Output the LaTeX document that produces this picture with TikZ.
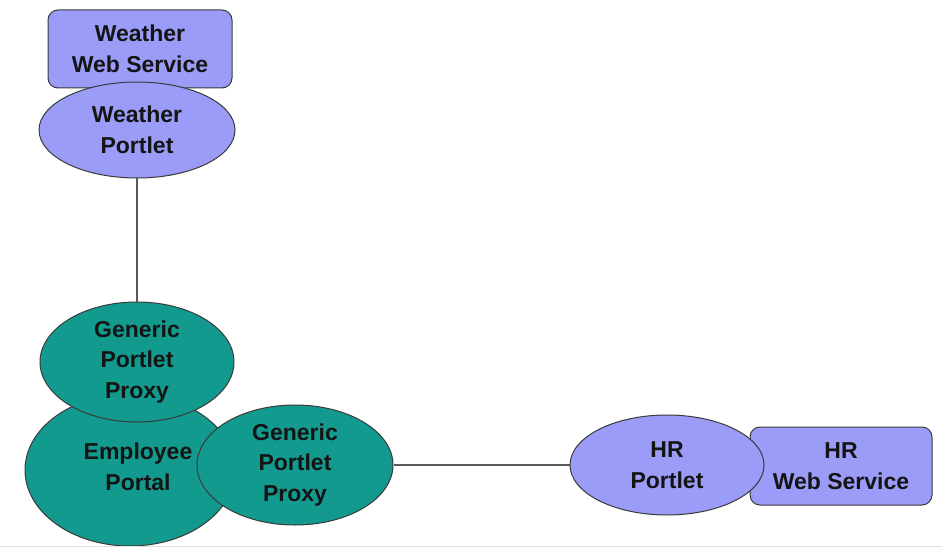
\documentclass[tikz,border=0pt]{standalone}
\usepackage{fontspec}
\setmainfont{Liberation Sans}
\usetikzlibrary{shapes.geometric}
\definecolor{peri}{HTML}{9A9CF8}
\definecolor{tealf}{HTML}{129A8E}
\definecolor{edge}{HTML}{3A3A3A}
\tikzset{
  lbl/.style={font=\fontsize{23}{30.5}\selectfont\bfseries, text=black!92, align=center, inner sep=0pt},
  svcbox/.style={lbl, draw=edge, line width=1pt, fill=peri, rounded corners=10pt, rectangle},
  portl/.style={lbl, draw=edge, line width=1pt, fill=peri, ellipse},
  tealell/.style={lbl, draw=edge, line width=1pt, fill=tealf, ellipse},
  conn/.style={draw=black!65, line width=1.3pt}
}
\begin{document}
\begin{tikzpicture}[x=1pt,y=-1pt]
\useasboundingbox (0,0) rectangle (942,548);
\fill[white] (0,0) rectangle (942,548);
% weather
\node[svcbox, minimum width=184pt, minimum height=78pt] (wws) at (140,49) {Weather\\Web Service};
\node[portl, minimum width=196pt, minimum height=96pt] (wp) at (137,130) {Weather\\Portlet};
% employee portal group
\node[tealell, minimum width=210pt, minimum height=152pt] (ep) at (130,470) {};
\node[lbl] (eptxt) at (138,467) {Employee\\Portal};
\node[tealell, minimum width=194pt, minimum height=120pt] (gpa) at (137,362) {Generic\\Portlet\\Proxy};
\node[tealell, minimum width=196pt, minimum height=120pt] (gpb) at (295,465) {Generic\\Portlet\\Proxy};
% HR
\node[svcbox, minimum width=182pt, minimum height=78pt] (hrws) at (841,466) {HR\\Web Service};
\node[portl, minimum width=194pt, minimum height=100pt] (hrp) at (667,465) {HR\\Portlet};
% connectors
\draw[conn] (wp.south) -- (gpa.north);
\draw[conn] (gpb.east) -- (hrp.west);
% bottom rule
\coordinate (rl) at (0,546.5);
\coordinate (rr) at (942,546.5);
\draw[black!12, line width=1pt] (rl) -- (rr);
\end{tikzpicture}
\end{document}
